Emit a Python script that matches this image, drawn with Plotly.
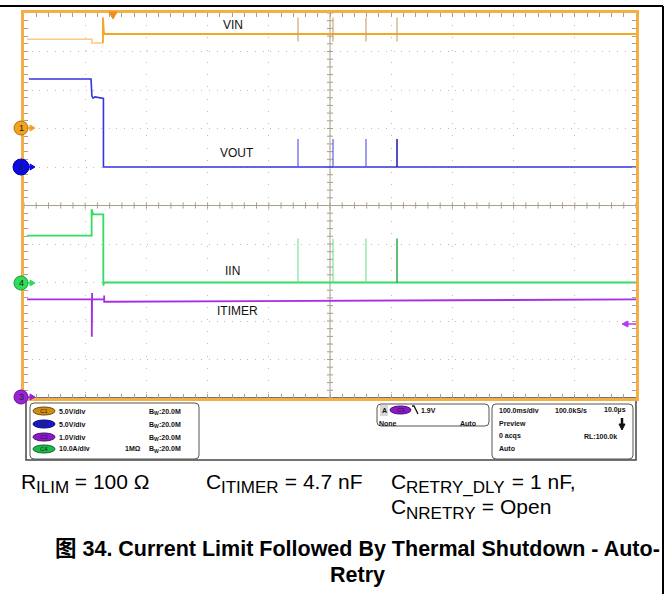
import plotly.graph_objects as go

W, H = 671, 594

# ---------------- data (time in ms, 100 ms/div) ----------------
time_range_ms = [0, 1000]

# Channel 1 : VIN (V), 5 V/div
vin_pre_t = [5, 111.0, 111.0, 129.0]
vin_pre_v = [11.6, 11.6, 11.1, 11.1]
vin_post_t = [129.0, 129.0, 130.5, 132.0, 1000]
vin_post_v = [11.1, 14.4, 12.55, 12.27, 12.27]
vin_spike_hi = 14.4
vin_spike_lo = 11.3

# Channel 2 : VOUT (V), 5 V/div
vout_t = [8, 109.5, 111.0, 113.0, 116.0, 128.5, 129.8, 129.8, 1000]
vout_v = [11.43, 11.43, 9.2, 8.95, 9.1, 9.0, 8.9, 0, 0]
vout_spike_hi = 3.64

# Channel 4 : IIN (A), 10 A/div
iin_t = [5, 110.5, 110.5, 112.0, 113.0, 129.6, 129.6, 131.0, 1000]
iin_v = [12.2, 12.2, 19.0, 18.0, 17.7, 17.7, -0.8, 0, 0]
iin_spike_hi = 11.4

# Channel 3 : ITIMER (V), 1 V/div
itimer_t = [5, 110.8, 110.8, 111.3, 111.3, 131.0, 131.0, 131.0, 1000]
itimer_v = [2.56, 2.56, 1.59, 2.73, 2.56, 2.56, 2.66, 2.50, 2.56]

# auto-retry pulse times (ms)
retry_t = [447.7, 504.9, 558.8, 609.5]

# channel vertical ranges (physical units over the 10 divisions)
range_vin = [-35, 15]
range_vout = [-30, 20]
range_iin = [-30, 70]
range_itimer = [0, 10]

trace_labels = ["VIN", "VOUT", "IIN", "ITIMER"]

# ---------------- helpers ----------------
def X(px):
    return px / W

def Y(py):
    return 1 - py / H

def spikes(times, lo, hi, base):
    xs, ys = [], []
    for t in times:
        xs += [t, t, t, t, None]
        ys += [base, hi, lo, base, None]
    return xs, ys

def rrect(x0, y0, x1, y1, r):
    return (f"M {X(x0+r)},{Y(y0)} L {X(x1-r)},{Y(y0)} Q {X(x1)},{Y(y0)} {X(x1)},{Y(y0+r)} "
            f"L {X(x1)},{Y(y1-r)} Q {X(x1)},{Y(y1)} {X(x1-r)},{Y(y1)} "
            f"L {X(x0+r)},{Y(y1)} Q {X(x0)},{Y(y1)} {X(x0)},{Y(y1-r)} "
            f"L {X(x0)},{Y(y0+r)} Q {X(x0)},{Y(y0)} {X(x0+r)},{Y(y0)} Z")

# Arial / Liberation Sans advance widths (per 1000 em) for subscript layout
ARIAL = {"R": 722, "C": 722, "I": 278, "L": 556, "M": 833, "T": 611, "E": 667, "Y": 667,
         "_": 556, "D": 722, "N": 722}
ARIAL_BOLD = {"B": 722, "W": 944}

def text_w(s, size, table=ARIAL):
    return sum(table[c] for c in s) * size / 1000.0

ORANGE = "#F5A623"
FRAME = "#F3AE45"
TICK = "#A89F8C"
FONT = "Liberation Sans, Arial, Noto Sans CJK SC, sans-serif"

fig = go.Figure()

# ITIMER
fig.add_trace(go.Scatter(x=itimer_t, y=itimer_v, mode="lines", yaxis="y5",
                         line=dict(color="#A52EE6", width=1.8), hoverinfo="skip"))
# IIN
fig.add_trace(go.Scatter(x=iin_t, y=iin_v, mode="lines", yaxis="y4",
                         line=dict(color="#33DD62", width=1.8), hoverinfo="skip"))
sx, sy = spikes(retry_t[:3], 0, iin_spike_hi, 0)
fig.add_trace(go.Scatter(x=sx, y=sy, mode="lines", yaxis="y4",
                         line=dict(color="#6FE08F", width=1.1), hoverinfo="skip"))
sx, sy = spikes(retry_t[3:], 0, iin_spike_hi, 0)
fig.add_trace(go.Scatter(x=sx, y=sy, mode="lines", yaxis="y4",
                         line=dict(color="#16A83A", width=1.4), hoverinfo="skip"))
# VOUT
fig.add_trace(go.Scatter(x=vout_t, y=vout_v, mode="lines", yaxis="y3",
                         line=dict(color="#3434E0", width=1.6), hoverinfo="skip"))
sx, sy = spikes(retry_t[:3], 0, vout_spike_hi, 0)
fig.add_trace(go.Scatter(x=sx, y=sy, mode="lines", yaxis="y3",
                         line=dict(color="#5050E8", width=1.1), hoverinfo="skip"))
sx, sy = spikes(retry_t[3:], 0, vout_spike_hi, 0)
fig.add_trace(go.Scatter(x=sx, y=sy, mode="lines", yaxis="y3",
                         line=dict(color="#1A1AB0", width=1.5), hoverinfo="skip"))
# VIN
fig.add_trace(go.Scatter(x=vin_pre_t, y=vin_pre_v, mode="lines", yaxis="y2",
                         line=dict(color="#FBCB80", width=1.6), hoverinfo="skip"))
fig.add_trace(go.Scatter(x=vin_post_t, y=vin_post_v, mode="lines", yaxis="y2",
                         line=dict(color=ORANGE, width=1.8), hoverinfo="skip"))
sx, sy = spikes(retry_t, vin_spike_lo, vin_spike_hi, vin_post_v[-1])
fig.add_trace(go.Scatter(x=sx, y=sy, mode="lines", yaxis="y2",
                         line=dict(color="#C9A060", width=1.1), hoverinfo="skip"))

axis_common = dict(showticklabels=False, zeroline=False, showline=True,
                   linecolor=FRAME, linewidth=2.5, mirror="allticks",
                   ticks="inside", ticklen=4, tickcolor=TICK, tickwidth=1,
                   showgrid=True, gridcolor="#C4BCAA", gridwidth=1, fixedrange=True)

fig.update_layout(
    width=W, height=H, margin=dict(l=0, r=0, t=0, b=0),
    paper_bgcolor="white", plot_bgcolor="white", showlegend=False,
    font=dict(family=FONT, color="black"),
    xaxis=dict(domain=[X(24), X(636)], range=time_range_ms, dtick=100, tick0=0,
               griddash="1px,11.24px",
               minor=dict(dtick=20, ticks="inside", ticklen=4, tickcolor=TICK, showgrid=False),
               **axis_common),
    yaxis=dict(domain=[Y(398), Y(13)], range=[0, 10], dtick=1, tick0=0,
               griddash="1px,6.7px",
               minor=dict(dtick=0.2, ticks="inside", ticklen=4, tickcolor=TICK, showgrid=False),
               **axis_common),
    yaxis2=dict(overlaying="y", range=range_vin, visible=False, fixedrange=True),
    yaxis3=dict(overlaying="y", range=range_vout, visible=False, fixedrange=True),
    yaxis4=dict(overlaying="y", range=range_iin, visible=False, fixedrange=True),
    yaxis5=dict(overlaying="y", range=range_itimer, visible=False, fixedrange=True),
)

shapes = []
# centre cross with ticks
shapes.append(dict(type="line", xref="x", yref="y", x0=500, x1=500, y0=0, y1=10,
                   line=dict(color=TICK, width=1), layer="between"))
shapes.append(dict(type="line", xref="x", yref="y", x0=0, x1=1000, y0=5, y1=5,
                   line=dict(color=TICK, width=1), layer="between"))
for i in range(51):
    t = i * 20
    shapes.append(dict(type="line", xref="x", yref="y", x0=t, x1=t, y0=5 - 0.08, y1=5 + 0.08,
                       line=dict(color=TICK, width=1), layer="between"))
for i in range(51):
    d = i * 0.2
    shapes.append(dict(type="line", xref="x", yref="y", x0=500 - 5, x1=500 + 5, y0=d, y1=d,
                       line=dict(color=TICK, width=1), layer="between"))

# outer page frame
shapes.append(dict(type="line", xref="paper", yref="paper", x0=X(0), x1=X(663), y0=Y(6), y1=Y(6),
                   line=dict(color="black", width=2)))
shapes.append(dict(type="line", xref="paper", yref="paper", x0=X(663), x1=X(663), y0=Y(6), y1=Y(594),
                   line=dict(color="black", width=2)))

# trigger position marker (top)
shapes.append(dict(type="path", xref="paper", yref="paper",
                   path=f"M {X(109)},{Y(12)} L {X(117)},{Y(12)} L {X(113)},{Y(19)} Z",
                   fillcolor="#F28C1E", line=dict(color="#F28C1E", width=1)))
# trigger level marker (right)
shapes.append(dict(type="line", xref="paper", yref="paper", x0=X(627), x1=X(636), y0=Y(324), y1=Y(324),
                   line=dict(color="#B03CF0", width=1.5)))
shapes.append(dict(type="path", xref="paper", yref="paper",
                   path=f"M {X(622)},{Y(324)} L {X(628)},{Y(321)} L {X(628)},{Y(327)} Z",
                   fillcolor="#B03CF0", line=dict(color="#B03CF0", width=1)))

# channel ground markers
markers = [("1", 128, "#F2A21E", "#B07010", 7), ("2", 167, "#0A0AE6", "#0A0A90", 8),
           ("4", 283, "#2EDD5A", "#1A9A3A", 7), ("3", 397, "#9A22D8", "#6A1098", 7)]
annotations = []

def ann(x, y, text, size, anchor="left", bold=False, color="#111"):
    annotations.append(dict(xref="paper", yref="paper", x=X(x), y=Y(y),
                            text=f"<b>{text}</b>" if bold else text, showarrow=False,
                            xanchor=anchor, yanchor="middle",
                            font=dict(size=size, color=color, family=FONT)))

for lab, yc, col, edge, r in markers:
    shapes.append(dict(type="circle", xref="paper", yref="paper",
                       x0=X(21 - r), x1=X(21 + r), y0=Y(yc + r), y1=Y(yc - r),
                       fillcolor=col, line=dict(color=edge, width=1)))
    shapes.append(dict(type="line", xref="paper", yref="paper", x0=X(28), x1=X(31), y0=Y(yc), y1=Y(yc),
                       line=dict(color=col, width=1.5)))
    shapes.append(dict(type="path", xref="paper", yref="paper",
                       path=f"M {X(30)},{Y(yc-3)} L {X(35)},{Y(yc)} L {X(30)},{Y(yc+3)} Z",
                       fillcolor=col, line=dict(color=col, width=1)))
    ann(21, yc, lab, 9, "center", color="#222")

# trace labels
for lab, xc, yc in zip(trace_labels, [233, 237, 232, 237], [25, 153, 271, 311]):
    ann(xc, yc, lab, 12, "center")

# ----- info panel -----
shapes.append(dict(type="rect", xref="paper", yref="paper", x0=X(26), x1=X(636), y0=Y(460), y1=Y(398),
                   line=dict(color="#444", width=1.5), fillcolor="white", layer="below"))
for (x0, y0, x1, y1) in [(30, 403, 199, 459), (377, 404, 489, 426), (492, 404, 633, 459)]:
    shapes.append(dict(type="path", xref="paper", yref="paper", path=rrect(x0, y0, x1, y1, 4),
                       line=dict(color="#555", width=1)))

ch_rows = [("C1", "#D38C12", "#6A4A08", "5.0V/div", ""), ("C2", "#1818C8", "#0A0A70", "5.0V/div", ""),
           ("C3", "#8C18CC", "#4A0A70", "1.0V/div", ""), ("C4", "#1CB848", "#0A6A28", "10.0A/div", "1MΩ")]
row_y = [411, 424, 437, 449]
PS = 7
for (cl, col, edge, scale, imp), yc in zip(ch_rows, row_y):
    shapes.append(dict(type="circle", xref="paper", yref="paper", x0=X(33), x1=X(55),
                       y0=Y(yc + 4), y1=Y(yc - 4), fillcolor=col, line=dict(color=edge, width=1)))
    ann(44, yc, cl, 6, "center", color="#222")
    ann(57, yc, scale, PS, bold=True)
    bx = 147
    ann(bx, yc, "B", PS, bold=True)
    bx += text_w("B", PS, ARIAL_BOLD)
    ann(bx, yc + 2, "W", 5, bold=True)
    bx += text_w("W", 5, ARIAL_BOLD)
    ann(bx, yc, ":20.0M", PS, bold=True)
    if imp:
        ann(143, yc, imp, PS, "right", bold=True)

# trigger box
shapes.append(dict(type="rect", xref="paper", yref="paper", x0=X(380), x1=X(388), y0=Y(416), y1=Y(405),
                   fillcolor="#D8D8D8", line=dict(width=0)))
shapes.append(dict(type="circle", xref="paper", yref="paper", x0=X(390), x1=X(411),
                   y0=Y(414), y1=Y(406), fillcolor="#8C18CC", line=dict(color="#4A0A70", width=1)))
shapes.append(dict(type="path", xref="paper", yref="paper",
                   path=f"M {X(412)},{Y(406)} L {X(414)},{Y(406)} L {X(418)},{Y(414)}",
                   line=dict(color="#111", width=1.3)))
ann(384, 410, "A", PS, "center", bold=True)
ann(400.5, 410, "C3", 6, "center", color="#222")
ann(419, 410, "1.9V", PS, bold=True)
ann(377, 423, "None", PS, bold=True)
ann(478, 423, "Auto", PS, "right", bold=True)

# timebase box
tb = [("100.0ms/div", 497, 410, "left"), ("100.0kS/s", 553, 410, "left"), ("10.0µs", 628, 410, "right"),
      ("Preview", 497, 423, "left"), ("0 acqs", 497, 436, "left"), ("RL:100.0k", 619, 436, "right"),
      ("Auto", 497, 449, "left")]
for txt, xc, yc, anc in tb:
    ann(xc, yc, txt, PS, anc, bold=True)
shapes.append(dict(type="line", xref="paper", yref="paper", x0=X(622), x1=X(622), y0=Y(418), y1=Y(425),
                   line=dict(color="#111", width=2.5)))
shapes.append(dict(type="path", xref="paper", yref="paper",
                   path=f"M {X(619)},{Y(424)} L {X(625)},{Y(424)} L {X(622)},{Y(430)} Z",
                   fillcolor="#111", line=dict(color="#111", width=1)))

# ----- captions (main letter, subscript, rest) -----
MS, SS = 21, 17
captions = [("R", "ILIM", " = 100 Ω", 19, 481), ("C", "ITIMER", " = 4.7 nF", 204, 481),
            ("C", "RETRY_DLY", " = 1 nF,", 389, 481), ("C", "NRETRY", " = Open", 389, 507)]
for main, subs, rest, x0, yc in captions:
    ann(x0, yc, main, MS, color="black")
    xs = x0 + text_w(main, MS)
    ann(xs, yc + 6, subs, SS, color="black")
    xr = xs + text_w(subs, SS)
    ann(xr, yc, rest, MS, color="black")

ann(357, 549, "图 34. Current Limit Followed By Thermal Shutdown - Auto-", 21.5, "center",
    bold=True, color="black")
ann(357, 575, "Retry", 21.5, "center", bold=True, color="black")

fig.update_layout(shapes=shapes, annotations=annotations)
fig.write_html("out.html", config={"displayModeBar": False},
               post_script="document.body.style.margin='0px';")
